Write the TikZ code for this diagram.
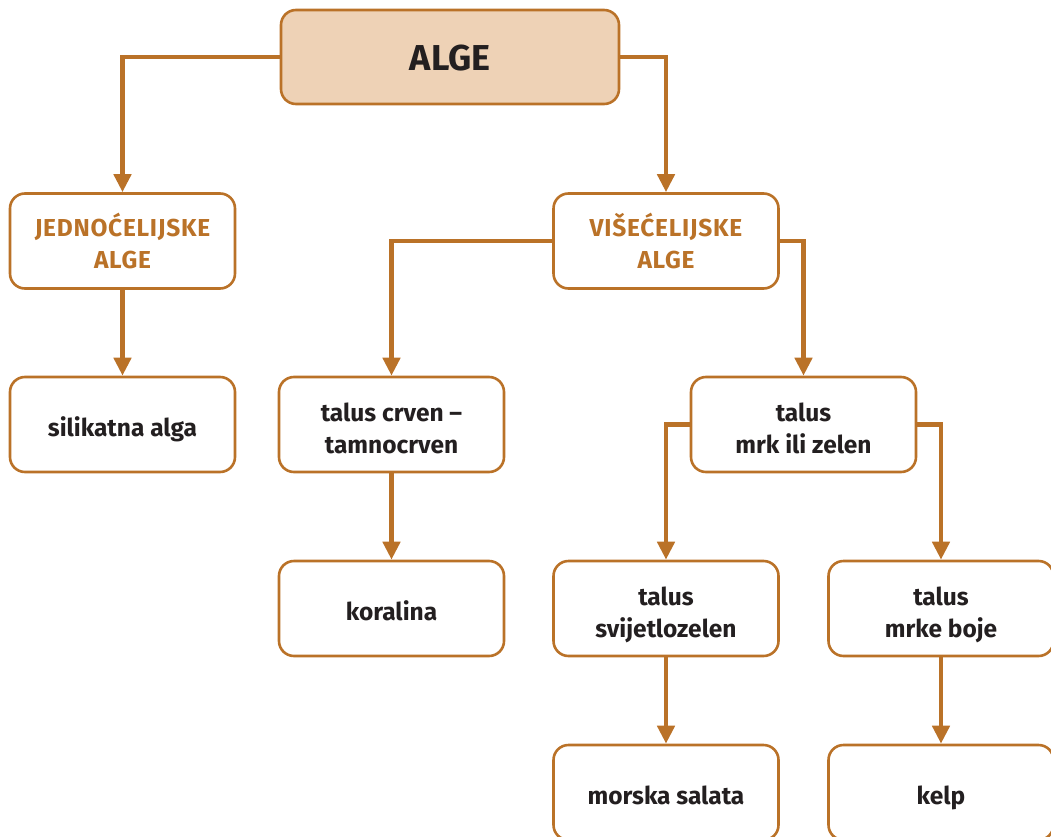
\documentclass[tikz,border=0pt]{standalone}
\usepackage{fontspec}
\setmainfont{Fira Sans}
\usetikzlibrary{arrows.meta}
\definecolor{brn}{HTML}{BA7228}
\definecolor{peach}{HTML}{EED2B6}
\definecolor{ink}{HTML}{231F20}
\tikzset{
  box/.style={draw=brn, line width=2.6pt, rounded corners=15pt, fill=white,
    minimum width=225pt, minimum height=95pt, inner sep=0pt, align=center,
    text=ink, font=\fontsize{24.5}{32}\selectfont\bfseries,
    text height=24pt, text depth=0pt},
  twoline/.style={text height=57pt, text depth=0pt},
  head/.style={box, text=brn, twoline, text height=54pt,
    font=\fontsize{24.5}{32}\selectfont\bfseries\addfontfeature{LetterSpace=3}},
  root/.style={box, fill=peach, minimum width=338pt, minimum height=94pt,
    font=\fontsize{36}{40}\selectfont\bfseries, text height=28pt},
  link/.style={draw=brn, line width=4.8pt, -{Triangle[width=17pt,length=18pt]}}
}
\begin{document}
\begin{tikzpicture}[x=1pt,y=-1pt]
\useasboundingbox (0,0) rectangle (1051,837);
% top level
\node[root] (alge) at (450,57) {ALGE};
% second level
\node[head] (jedno) at (122.5,241) {JEDNOĆELIJSKE\\ALGE};
\node[head] (vise) at (666,241) {VIŠEĆELIJSKE\\ALGE};
% third level
\node[box] (silik) at (122.5,424.5) {silikatna alga};
\node[box,twoline] (crven) at (391.5,424.5) {talus crven –\\tamnocrven};
\node[box,twoline] (mrk) at (803.5,424.5) {talus\\mrk ili zelen};
% fourth level
\node[box] (koral) at (391.5,608.5) {koralina};
\node[box,twoline] (svijet) at (666,608.5) {talus\\svijetlozelen};
\node[box,twoline] (mrke) at (941,608.5) {talus\\mrke boje};
% fifth level
\node[box] (salata) at (666,792.5) {morska salata};
\node[box] (kelp) at (941,792.5) {kelp};
% connectors
\draw[link] (alge.west) -| (jedno.north);
\draw[link] (alge.east) -| (vise.north);
\draw[link] (jedno.south) -- (silik.north);
\draw[link] (vise.west) -| (crven.north);
\draw[link] (vise.east) -| (mrk.north);
\draw[link] (crven.south) -- (koral.north);
\draw[link] (mrk.west) -| (svijet.north);
\draw[link] (mrk.east) -| (mrke.north);
\draw[link] (svijet.south) -- (salata.north);
\draw[link] (mrke.south) -- (kelp.north);
\end{tikzpicture}
\end{document}
